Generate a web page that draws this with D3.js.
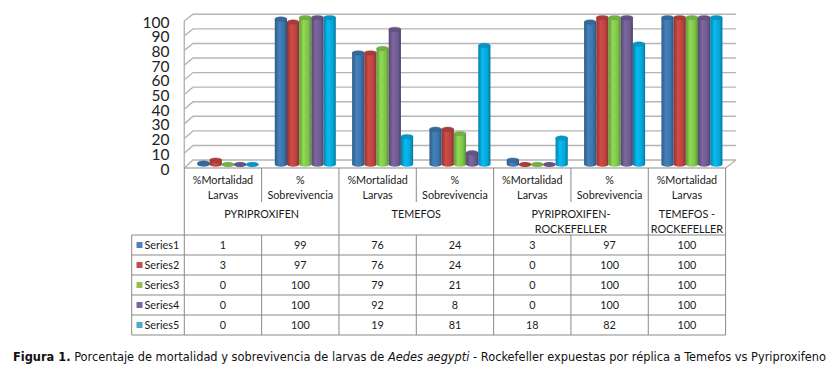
<!DOCTYPE html>
<html><head><meta charset="utf-8">
<script src="https://cdn.jsdelivr.net/npm/d3@7"></script>
<style>body{margin:0;background:#fff}svg{display:block}</style>
</head><body><svg id="c" width="833" height="371"></svg>
<script>
// ---- data ----
const categories = ["%Mortalidad Larvas","% Sobrevivencia","%Mortalidad Larvas","% Sobrevivencia","%Mortalidad Larvas","% Sobrevivencia","%Mortalidad Larvas"];
const catLines = [["%Mortalidad","Larvas"],["%","Sobrevivencia"],["%Mortalidad","Larvas"],["%","Sobrevivencia"],["%Mortalidad","Larvas"],["%","Sobrevivencia"],["%Mortalidad","Larvas"]];
const groupNames = [["PYRIPROXIFEN"],["TEMEFOS"],["PYRIPROXIFEN-","ROCKEFELLER"],["TEMEFOS -","ROCKEFELLER"]];
const groupSpans = [[0,2],[2,4],[4,6],[6,7]];
const seriesNames = ["Series1","Series2","Series3","Series4","Series5"];
const series1 = [1,99,76,24,3,97,100];
const series2 = [3,97,76,24,0,100,100];
const series3 = [0,100,79,21,0,100,100];
const series4 = [0,100,92,8,0,100,100];
const series5 = [0,100,19,81,18,82,100];
const seriesValues = [series1,series2,series3,series4,series5];
const yTicks = [0,10,20,30,40,50,60,70,80,90,100];

// ---- styles ----
const barColors = ["#3b73a8","#b8433f","#7ec24a","#6e5b8f","#07a5d6"];
const legendColors = ["#4f81bd","#c0504d","#9bbb59","#8064a2","#4bacc6"];
const FONT = "Lato, 'Open Sans', sans-serif";

const svg = d3.select("#c");
const defs = svg.append("defs");

const xL = 184.3, xR = 725.6, backR = 736, dxBack = 8.7;
const xCol = d3.scaleBand().domain(d3.range(categories.length)).range([xL, xR]);
const step = xCol.bandwidth();
const groupW = 61;
const xBar = d3.scaleBand().domain(seriesNames).range([0, groupW]);
const yFront = d3.scaleLinear().domain([0,100]).range([168, 21]);
const yBack = d3.scaleLinear().domain([0,100]).range([160, 14.3]);
const yBar = d3.scaleLinear().domain([0,100]).range([164.5, 17.6]);

// gradients
barColors.forEach((c,i)=>{
  const g = defs.append("linearGradient").attr("id","g"+i).attr("x1",0).attr("x2",1).attr("y1",0).attr("y2",0);
  const base = d3.color(c);
  g.append("stop").attr("offset","0%").attr("stop-color", base.darker(0.7));
  g.append("stop").attr("offset","35%").attr("stop-color", base.brighter(0.35));
  g.append("stop").attr("offset","75%").attr("stop-color", base);
  g.append("stop").attr("offset","100%").attr("stop-color", base.darker(0.9));
});

// grid
const grid = svg.append("g").attr("fill","none").attr("stroke","#b5b5b5").attr("stroke-width",1.4);
yTicks.forEach(t=>{
  grid.append("polyline").attr("points",
    `${xL},${yFront(t)} ${xL+dxBack},${yBack(t)} ${backR},${yBack(t)}`);
});
grid.append("line").attr("x1",xL).attr("x2",xL).attr("y1",yFront(100)).attr("y2",yFront(0));
grid.append("line").attr("x1",backR).attr("y1",yBack(0)).attr("x2",xR).attr("y2",yFront(0));

// y labels
svg.append("g").selectAll("text").data(yTicks).join("text")
  .attr("x",169.5).attr("y",d=>yFront(d)+1).attr("dy","0.36em")
  .attr("text-anchor","end").attr("font-family",FONT).attr("font-size",15.5).attr("fill","#222")
  .text(d=>d);

// bars
const bars = svg.append("g");
const ry = 2.2;
categories.forEach((cat,ci)=>{
  const gx = xCol(ci) + (step-groupW)/2 + 5;
  seriesNames.forEach((s,si)=>{
    const v = seriesValues[si][ci];
    const x = gx + xBar(s), w = xBar.bandwidth();
    const cx = x + w/2;
    const y0 = yBar(0), y1 = yBar(v);
    const base = d3.color(barColors[si]);
    bars.append("ellipse").attr("cx",cx).attr("cy",y0).attr("rx",w/2).attr("ry",ry).attr("fill","url(#g"+si+")");
    if (v > 0) {
      bars.append("rect").attr("x",x).attr("y",y1).attr("width",w).attr("height",y0-y1).attr("fill","url(#g"+si+")");
    }
    bars.append("ellipse").attr("cx",cx).attr("cy",y1).attr("rx",w/2).attr("ry",ry)
      .attr("fill", base.darker(0.25)).attr("stroke", base.darker(0.6)).attr("stroke-width",0.4);
  });
});

// table
const tbl = svg.append("g").attr("stroke","#8a8a8a").attr("stroke-width",1).attr("fill","none");
const hTop = 168, hMid = 202, rowTop = 235, rowH = 20, legL = 131.7;
tbl.append("line").attr("x1",xL).attr("x2",xR).attr("y1",hTop).attr("y2",hTop);
d3.range(seriesNames.length+1).forEach(r=>{
  tbl.append("line").attr("x1",legL).attr("x2",xR).attr("y1",rowTop+r*rowH).attr("y2",rowTop+r*rowH);
});
tbl.append("line").attr("x1",legL).attr("x2",legL).attr("y1",rowTop).attr("y2",rowTop+5*rowH);
const groupEdges = new Set([0]);
groupSpans.forEach(s=>groupEdges.add(s[1]));
d3.range(categories.length+1).forEach(k=>{
  const x = k===categories.length ? xR : xCol(k);
  const yEndHeader = groupEdges.has(k) ? rowTop : hMid;
  tbl.append("line").attr("x1",x).attr("x2",x).attr("y1",hTop).attr("y2",yEndHeader);
  tbl.append("line").attr("x1",x).attr("x2",x).attr("y1",rowTop).attr("y2",rowTop+5*rowH);
});

const txt = svg.append("g").attr("font-family",FONT).attr("font-size",10.8).attr("fill","#1a1a1a").attr("text-anchor","middle");
catLines.forEach((lines,ci)=>{
  const cx = xCol(ci)+step/2;
  lines.forEach((l,li)=>txt.append("text").attr("x",cx).attr("y",184+li*15).text(l));
});
groupNames.forEach((lines,gi)=>{
  const s = groupSpans[gi];
  const cx = (xCol(s[0]) + (s[1]===categories.length ? xR : xCol(s[1])))/2;
  lines.forEach((l,li)=>txt.append("text").attr("x",cx).attr("y",218+li*15).text(l));
});
seriesNames.forEach((s,si)=>{
  const cy = rowTop + si*rowH + rowH/2;
  svg.append("rect").attr("x",136.5).attr("y",cy-3).attr("width",6).attr("height",6).attr("fill",legendColors[si]);
  txt.append("text").attr("x",144.5).attr("y",cy+4).attr("text-anchor","start").text(s);
  seriesValues[si].forEach((v,ci)=>{
    txt.append("text").attr("x",xCol(ci)+step/2).attr("y",cy+4).text(v);
  });
});

// caption
const cap = svg.append("text").attr("x",13).attr("y",361).attr("font-family","'DejaVu Sans Condensed', 'DejaVu Sans', sans-serif").attr("font-size",12).attr("fill","#111");
cap.append("tspan").attr("font-weight","bold").text("Figura 1.");
cap.append("tspan").text(" Porcentaje de mortalidad y sobrevivencia de larvas de ");
cap.append("tspan").attr("font-style","italic").text("Aedes aegypti");
cap.append("tspan").text(" - Rockefeller expuestas por réplica a Temefos vs Pyriproxifeno");
const w = cap.node().getComputedTextLength();
cap.attr("font-size", 12*814/w);
</script></body></html>
